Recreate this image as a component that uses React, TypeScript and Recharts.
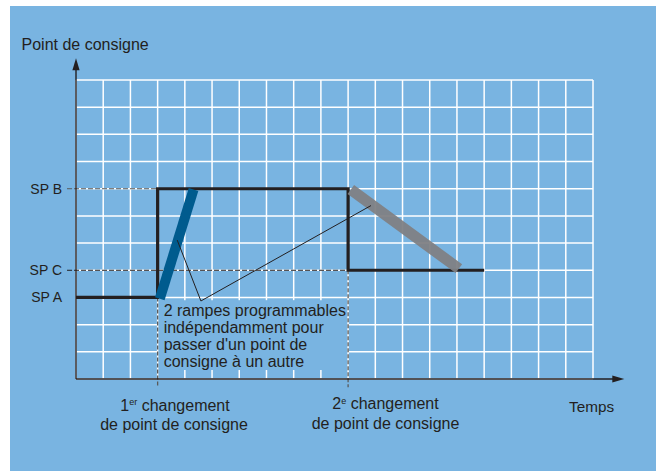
import React from 'react';
import {
  ComposedChart,
  Line,
  XAxis,
  YAxis,
  ReferenceLine,
  ReferenceArea,
} from 'recharts';

// ---- data (time units / setpoint units) ----
const xTicks = [0, 1, 2, 3, 4, 5, 6, 7, 8, 9, 10, 11, 12, 13, 14, 15, 16, 17, 18, 19];
const yTicks = [0, 1, 2, 3, 4, 5, 6, 7, 8, 9, 10, 11];
const spLevels = [3, 4, 7];
const spNames = ['SP A', 'SP C', 'SP B'];

const setpointPath = [
  { x: 0, y: 3 },
  { x: 3, y: 3 },
  { x: 3, y: 7 },
  { x: 10, y: 7 },
  { x: 10, y: 4 },
  { x: 15, y: 4 },
];
const rampUp = [
  { x: 3.08, y: 2.95 },
  { x: 4.32, y: 6.97 },
];
const rampDown = [
  { x: 10.1, y: 6.97 },
  { x: 14.07, y: 4.06 },
];
const leaderPoints = [
  { x: 3.72, y: 5.11 },
  { x: 4.59, y: 2.87 },
  { x: 10.84, y: 6.38 },
];
const noteLines = [
  '2 rampes programmables',
  'indépendamment pour',
  "passer d'un point de",
  'consigne à un autre',
];
// note box (in data units) that hides the grid behind the text
const noteBox = { x1: 3, x2: 10, y1: 0.33, y2: 2.9 };

const INK = '#231f20';
const BG = '#79b4e1';
const X_MAX = 19;
const Y_MAX = 11;

const arrowShape = (props: any) => {
  const { x1, y1, x2, y2 } = props;
  const dx = x2 - x1;
  const dy = y2 - y1;
  const len = Math.hypot(dx, dy) || 1;
  const ux = dx / len;
  const uy = dy / len;
  const L = 12;
  const W = 3.6;
  const bx = x2 - ux * L;
  const by = y2 - uy * L;
  return (
    <g>
      <line x1={x1} y1={y1} x2={bx + ux * 2} y2={by + uy * 2} stroke={INK} strokeWidth={1.4} />
      <polygon
        points={`${x2},${y2} ${bx - uy * W},${by + ux * W} ${bx + uy * W},${by - ux * W}`}
        fill={INK}
      />
    </g>
  );
};

const NoteText = (props: any) => {
  const vb = props.viewBox || { x: 157, y: 300 };
  return (
    <g>
      {noteLines.map((t, i) => (
        <text key={i} x={vb.x + 6} y={vb.y + 16 + i * 17.1} fill={INK} fontSize={16}>
          {t}
        </text>
      ))}
    </g>
  );
};

// grid segments, skipping the note box
const gridV: { x: number; a: number; b: number }[] = [];
xTicks.forEach((t) => {
  if (t > noteBox.x1 && t < noteBox.x2) {
    gridV.push({ x: t, a: 0, b: noteBox.y1 });
    gridV.push({ x: t, a: noteBox.y2, b: Y_MAX });
  } else {
    gridV.push({ x: t, a: 0, b: Y_MAX });
  }
});
const gridH: { y: number; a: number; b: number }[] = [];
yTicks.forEach((t) => {
  if (t > noteBox.y1 && t < noteBox.y2) {
    gridH.push({ y: t, a: 0, b: noteBox.x1 });
    gridH.push({ y: t, a: noteBox.x2, b: X_MAX });
  } else {
    gridH.push({ y: t, a: 0, b: X_MAX });
  }
});

const textStyle = { fill: INK, fontSize: 16 };

export default function App() {
  return (
    <div style={{ position: 'absolute', left: 0, top: 0, width: 656, height: 471, background: '#ffffff' }}>
      <div style={{ position: 'absolute', left: 10, top: 6, width: 646, height: 465, background: BG }} />
      <div style={{ position: 'absolute', left: 0, top: 0, fontFamily: '"Liberation Sans", Arial, sans-serif' }}>
        <ComposedChart
          width={656}
          height={471}
          margin={{ top: 80, left: 76, right: 63, bottom: 92 }}
        >
          <XAxis type="number" dataKey="x" domain={[0, X_MAX]} ticks={xTicks} hide />
          <YAxis type="number" domain={[0, Y_MAX]} ticks={yTicks} hide />

          {gridV.map((g, i) => (
            <ReferenceLine
              key={'gv' + i}
              segment={[{ x: g.x, y: g.a }, { x: g.x, y: g.b }]}
              stroke="#ffffff"
              strokeWidth={1.5}
              ifOverflow="visible"
            />
          ))}
          {gridH.map((g, i) => (
            <ReferenceLine
              key={'gh' + i}
              segment={[{ x: g.a, y: g.y }, { x: g.b, y: g.y }]}
              stroke="#ffffff"
              strokeWidth={1.5}
              ifOverflow="visible"
            />
          ))}

          <ReferenceArea
            x1={noteBox.x1}
            x2={noteBox.x2}
            y1={noteBox.y1}
            y2={noteBox.y2}
            fill="none"
            fillOpacity={0}
            stroke="none"
            ifOverflow="visible"
            label={<NoteText />}
          />

          {/* setpoint labels on the left */}
          {spLevels.map((lv, i) => (
            <ReferenceLine
              key={'sp' + lv}
              segment={[{ x: -0.33, y: lv }, { x: 0, y: lv }]}
              stroke="none"
              ifOverflow="visible"
              label={{ value: spNames[i], position: 'left', offset: 5, fill: INK, fontSize: 14 }}
            />
          ))}

          <ReferenceLine segment={[{ x: -0.33, y: 7 }, { x: 3, y: 7 }]} stroke="#5a5a5a" strokeDasharray="5 2" strokeWidth={1} ifOverflow="visible" />
          <ReferenceLine segment={[{ x: -0.33, y: 4 }, { x: 10, y: 4 }]} stroke={INK} strokeDasharray="5 2" strokeWidth={1} ifOverflow="visible" />
          <ReferenceLine segment={[{ x: 3, y: 3 }, { x: 3, y: -0.3 }]} stroke="#5a5a5a" strokeDasharray="4 2" strokeWidth={1.3} ifOverflow="visible" />
          <ReferenceLine segment={[{ x: 10, y: 4 }, { x: 10, y: -0.3 }]} stroke="#5a5a5a" strokeDasharray="4 2" strokeWidth={1.3} ifOverflow="visible" />

          <ReferenceLine segment={[{ x: 0, y: 0 }, { x: 0, y: 11.8 }]} ifOverflow="visible" shape={arrowShape} />
          <ReferenceLine segment={[{ x: 0, y: 0 }, { x: 20.15, y: 0 }]} ifOverflow="visible" shape={arrowShape} />

          <Line
            data={setpointPath}
            dataKey="y"
            type="linear"
            stroke={INK}
            strokeWidth={3.2}
            strokeLinejoin="miter"
            dot={false}
            activeDot={false}
            isAnimationActive={false}
          />
          <Line
            data={rampUp}
            dataKey="y"
            type="linear"
            stroke="#005b8e"
            strokeWidth={10}
            strokeLinecap="butt"
            dot={false}
            activeDot={false}
            isAnimationActive={false}
          />
          <Line
            data={rampDown}
            dataKey="y"
            type="linear"
            stroke="#808184"
            strokeOpacity={0.95}
            strokeWidth={11}
            strokeLinecap="butt"
            dot={false}
            activeDot={false}
            isAnimationActive={false}
          />
          <Line
            data={leaderPoints}
            dataKey="y"
            type="linear"
            stroke={INK}
            strokeWidth={1}
            dot={false}
            activeDot={false}
            isAnimationActive={false}
          />

          <text x={21.5} y={49.5} style={textStyle}>Point de consigne</text>

          <text x={175} y={410.5} textAnchor="middle" style={textStyle}>
            1<tspan fontSize={9} dy={-5.5}>er</tspan>
            <tspan dy={5.5}> changement</tspan>
          </text>
          <text x={174} y={429.5} textAnchor="middle" style={textStyle}>de point de consigne</text>

          <text x={385.5} y={409} textAnchor="middle" style={textStyle}>
            2<tspan fontSize={9} dy={-5.5}>e</tspan>
            <tspan dy={5.5}> changement</tspan>
          </text>
          <text x={385.5} y={428.5} textAnchor="middle" style={textStyle}>de point de consigne</text>

          <text x={569} y={411.5} style={{ fill: INK, fontSize: 15.3 }}>Temps</text>
        </ComposedChart>
      </div>
    </div>
  );
}
